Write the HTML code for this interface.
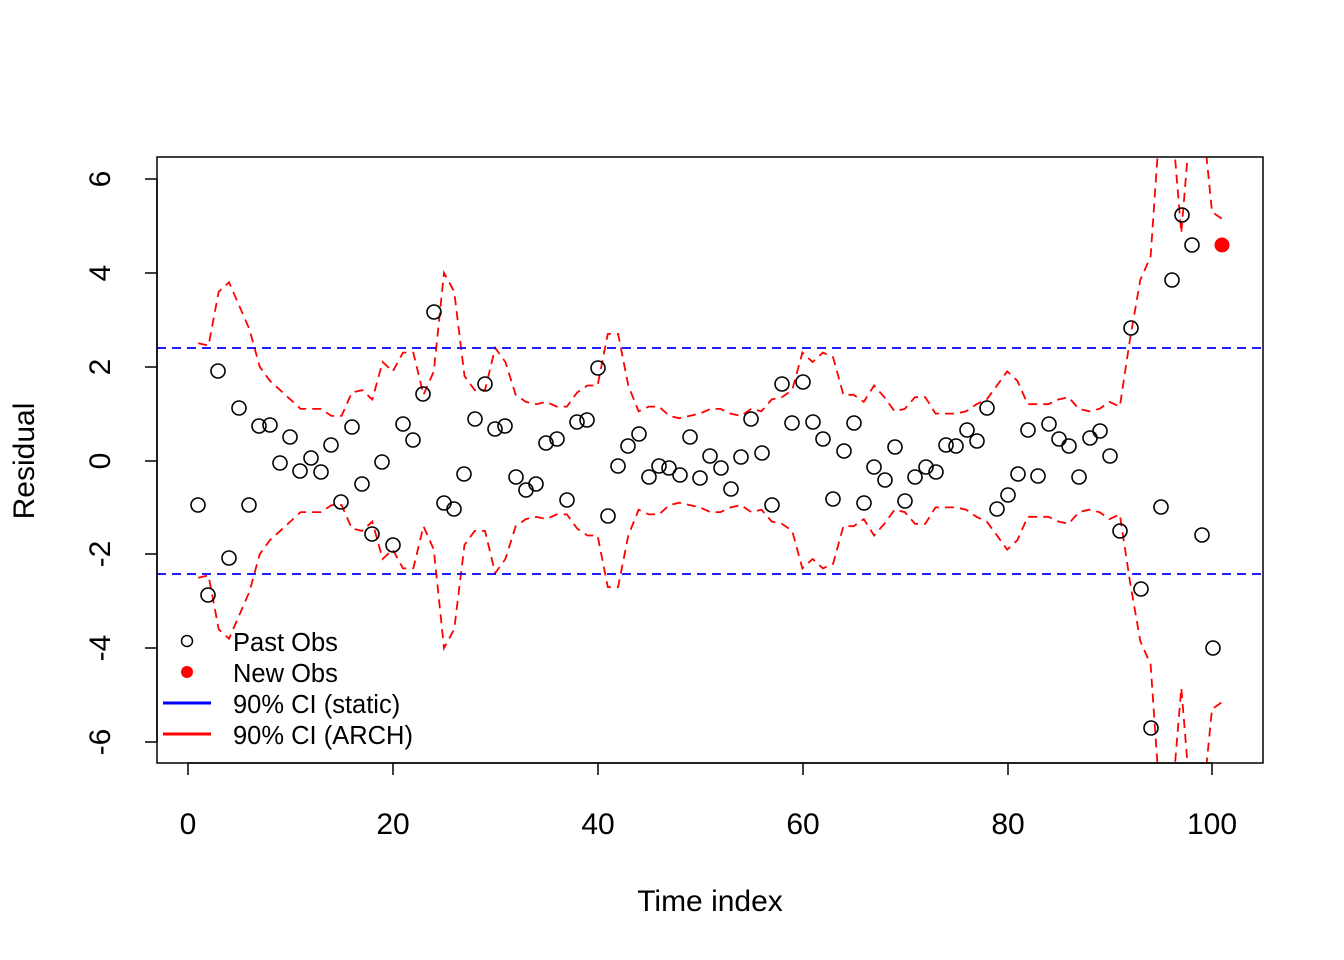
<!DOCTYPE html>
<html><head><meta charset="utf-8"><style>
html,body{margin:0;padding:0;background:#fff;}
svg{display:block;font-family:"Liberation Sans",Arial,sans-serif;}
</style></head><body>
<svg id="s" width="1344" height="960" viewBox="0 0 1344 960" xmlns="http://www.w3.org/2000/svg">
<defs><clipPath id="c"><rect x="157" y="157" width="1106" height="606"/></clipPath></defs>
<rect x="0" y="0" width="1344" height="960" fill="#fff"/>
<g id="g"></g>
<rect x="157" y="157" width="1106" height="606" fill="none" stroke="#000" stroke-width="1.5"/>
<g stroke="#000" stroke-width="1.5">
<line x1="188" y1="763" x2="1212" y2="763"/>
<line x1="188" y1="763" x2="188" y2="775"/><line x1="393" y1="763" x2="393" y2="775"/><line x1="598" y1="763" x2="598" y2="775"/><line x1="803" y1="763" x2="803" y2="775"/><line x1="1008" y1="763" x2="1008" y2="775"/><line x1="1212" y1="763" x2="1212" y2="775"/>
<line x1="157" y1="179" x2="157" y2="742"/>
<line x1="145" y1="179" x2="157" y2="179"/><line x1="145" y1="273" x2="157" y2="273"/><line x1="145" y1="367" x2="157" y2="367"/><line x1="145" y1="461" x2="157" y2="461"/><line x1="145" y1="554" x2="157" y2="554"/><line x1="145" y1="648" x2="157" y2="648"/><line x1="145" y1="742" x2="157" y2="742"/>
</g>
<g font-size="30" text-anchor="middle" fill="#000">
<text x="188" y="834">0</text><text x="393" y="834">20</text><text x="598" y="834">40</text><text x="803" y="834">60</text><text x="1008" y="834">80</text><text x="1212" y="834">100</text>
<text transform="translate(110,179) rotate(-90)">6</text>
<text transform="translate(110,273) rotate(-90)">4</text>
<text transform="translate(110,367) rotate(-90)">2</text>
<text transform="translate(110,461) rotate(-90)">0</text>
<text transform="translate(110,554) rotate(-90)">-2</text>
<text transform="translate(110,648) rotate(-90)">-4</text>
<text transform="translate(110,742) rotate(-90)">-6</text>
<text x="710" y="911">Time index</text>
<text transform="translate(34,461) rotate(-90)">Residual</text>
</g>
<g font-size="25.5" fill="#000">
<circle cx="187" cy="641" r="5.5" fill="none" stroke="#000" stroke-width="1.5"/>
<circle cx="187" cy="672" r="6" fill="#f00"/>
<line x1="163" y1="703" x2="211" y2="703" stroke="#00f" stroke-width="3"/>
<line x1="163" y1="734" x2="211" y2="734" stroke="#f00" stroke-width="3"/>
<text x="233" y="651">Past Obs</text>
<text x="233" y="682">New Obs</text>
<text x="233" y="713">90% CI (static)</text>
<text x="233" y="744">90% CI (ARCH)</text>
</g>
</svg>
<script>
var pts=[[198,505],[208,595],[218,371],[229,558],[239,408],[249,505],[259,426],[270,425],[280,463],[290,437],[300,471],[311,458],[321,472],[331,445],[341,502],[352,427],[362,484],[372,534],[382,462],[393,545],[403,424],[413,440],[423,394],[434,312],[444,503],[454,509],[464,474],[475,419],[485,384],[495,429],[505,426],[516,477],[526,490],[536,484],[546,443],[557,439],[567,500],[577,422],[587,420],[598,368],[608,516],[618,466],[628,446],[639,434],[649,477],[659,466],[669,468],[680,475],[690,437],[700,478],[710,456],[721,468],[731,489],[741,457],[751,419],[762,453],[772,505],[782,384],[792,423],[803,382],[813,422],[823,439],[833,499],[844,451],[854,423],[864,503],[874,467],[885,480],[895,447],[905,501],[915,477],[926,467],[936,472],[946,445],[956,446],[967,430],[977,441],[987,408],[997,509],[1008,495],[1018,474],[1028,430],[1038,476],[1049,424],[1059,439],[1069,446],[1079,477],[1090,438],[1100,431],[1110,456],[1120,531],[1131,328],[1141,589],[1151,728],[1161,507],[1172,280],[1182,215],[1192,245],[1202,535],[1213,648]];
var up=[2.5,2.45,3.6,3.8,3.3,2.8,2.0,1.7,1.5,1.3,1.1,1.1,1.1,0.95,0.95,1.45,1.5,1.3,2.1,1.9,2.3,2.3,1.4,1.9,4.0,3.6,1.8,1.5,1.5,2.4,2.1,1.4,1.25,1.2,1.25,1.15,1.15,1.45,1.6,1.6,2.7,2.7,1.6,1.05,1.15,1.15,0.95,0.9,0.95,1.0,1.1,1.1,1.0,0.95,1.1,1.05,1.3,1.35,1.5,2.3,2.1,2.3,2.2,1.4,1.4,1.25,1.6,1.35,1.05,1.1,1.35,1.35,1.0,1.0,1.0,1.05,1.2,1.3,1.6,1.9,1.7,1.2,1.2,1.2,1.3,1.35,1.1,1.05,1.1,1.25,1.15,2.6,3.85,4.35,7.5,7.5,4.85,7.5,7.5,5.3,5.15];
var g=document.getElementById('g'),h='';
function X(i){return 188+10.24*i;}function Y(v){return 460.5-46.9*v;}
var a='',b='';
for(var i=0;i<up.length;i++){a+=(i?'L':'M')+X(i+1).toFixed(1)+','+Y(up[i]).toFixed(1);b+=(i?'L':'M')+X(i+1).toFixed(1)+','+Y(-up[i]).toFixed(1);}
h+='<g clip-path="url(#c)"><path d="'+a+'" fill="none" stroke="#f00" stroke-width="1.8" stroke-dasharray="9,6"/><path d="'+b+'" fill="none" stroke="#f00" stroke-width="1.8" stroke-dasharray="9,6"/></g>';
h+='<line x1="157" y1="348" x2="1263" y2="348" stroke="#00f" stroke-width="1.8" stroke-dasharray="9,6"/><line x1="157" y1="574" x2="1263" y2="574" stroke="#00f" stroke-width="1.8" stroke-dasharray="9,6"/>';
pts.forEach(function(p){h+='<circle cx="'+p[0]+'" cy="'+p[1]+'" r="7" fill="none" stroke="#000" stroke-width="1.6"/>';});
h+='<circle cx="1222" cy="245" r="7.5" fill="#f00"/>';
g.innerHTML=h;
</script>
</body></html>
